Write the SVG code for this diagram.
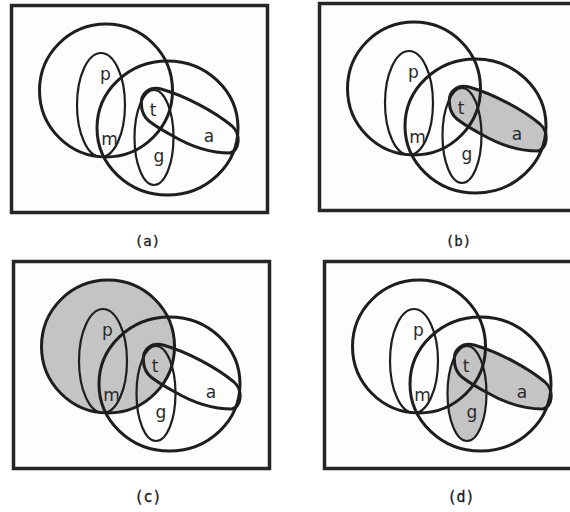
<svg xmlns="http://www.w3.org/2000/svg" width="570" height="512" viewBox="0 0 570 512">
<style>
.frame{fill:#fdfdfd;stroke:#262626;stroke-width:3.5}
.big{fill:none;stroke:#1e1e1e;stroke-width:3}
.thin{fill:none;stroke:#1e1e1e;stroke-width:2.2}
.sh{fill:#c4c4c4;stroke:none}
.lbl{font-family:"DejaVu Sans","Noto Sans",sans-serif;font-size:17px;fill:#2a2a2a;text-anchor:middle}
.cap{font-family:"DejaVu Sans Mono","Liberation Mono",monospace;fill:#1a1a1a;text-anchor:middle;stroke:#1a1a1a;stroke-width:0.3}
</style>
<defs>
<path id="ashape" d="M141.5,105 C140,93 150,86 161,89 C186,96 215,112 232,126 C241,134 240,150 230,153 C210,153 190,146 173,136 C162,130 150,123 146,118 C143,114 141.5,110 141.5,105 Z"/>
</defs>
<rect width="570" height="512" fill="#ffffff"/>

<g id="panel-a">
<rect class="frame" x="11.5" y="5.5" width="256" height="207"/>
<g id="a-circle1"><circle class="big" cx="106" cy="90.5" r="66.5"/></g>
<g id="a-circle2"><ellipse class="big" cx="167.5" cy="128" rx="70.5" ry="67"/></g>
<g id="a-p"><ellipse class="thin" cx="101" cy="105" rx="24" ry="52"/></g>
<g id="a-g"><ellipse class="thin" cx="154" cy="137.5" rx="19.5" ry="47.5"/></g>
<g id="a-a"><use href="#ashape" class="big"/></g>
<text class="lbl" x="105.5" y="80">p</text>
<text class="lbl" x="109.5" y="145">m</text>
<text class="lbl" x="153" y="116">t</text>
<text class="lbl" x="159" y="162">g</text>
<text class="lbl" x="209" y="142">a</text>
</g>

<g id="panel-b" transform="translate(308,-2)">
<rect class="frame" x="11.5" y="5.5" width="256" height="207"/>
<use href="#ashape" class="sh"/>
<g id="b-circle1"><circle class="big" cx="106" cy="90.5" r="66.5"/></g>
<g id="b-circle2"><ellipse class="big" cx="167.5" cy="128" rx="70.5" ry="67"/></g>
<g id="b-p"><ellipse class="thin" cx="101" cy="105" rx="24" ry="52"/></g>
<g id="b-g"><ellipse class="thin" cx="154" cy="137.5" rx="19.5" ry="47.5"/></g>
<g id="b-a"><use href="#ashape" class="big"/></g>
<text class="lbl" x="105.5" y="80">p</text>
<text class="lbl" x="109.5" y="145">m</text>
<text class="lbl" x="153" y="116">t</text>
<text class="lbl" x="159" y="162">g</text>
<text class="lbl" x="209" y="142">a</text>
</g>

<g id="panel-c" transform="translate(2,256)">
<rect class="frame" x="11.5" y="5.5" width="256" height="207"/>
<circle class="sh" cx="106" cy="90.5" r="66.5"/>
<g id="c-circle1"><circle class="big" cx="106" cy="90.5" r="66.5"/></g>
<g id="c-circle2"><ellipse class="big" cx="167.5" cy="128" rx="70.5" ry="67"/></g>
<g id="c-p"><ellipse class="thin" cx="101" cy="105" rx="24" ry="52"/></g>
<g id="c-g"><ellipse class="thin" cx="154" cy="137.5" rx="19.5" ry="47.5"/></g>
<g id="c-a"><use href="#ashape" class="big"/></g>
<text class="lbl" x="105.5" y="80">p</text>
<text class="lbl" x="109.5" y="145">m</text>
<text class="lbl" x="153" y="116">t</text>
<text class="lbl" x="159" y="162">g</text>
<text class="lbl" x="209" y="142">a</text>
</g>

<g id="panel-d" transform="translate(313,256)">
<rect class="frame" x="11.5" y="5.5" width="256" height="207"/>
<ellipse class="sh" cx="154" cy="137.5" rx="19.5" ry="47.5"/>
<use href="#ashape" class="sh"/>
<g id="d-circle1"><circle class="big" cx="106" cy="90.5" r="66.5"/></g>
<g id="d-circle2"><ellipse class="big" cx="167.5" cy="128" rx="70.5" ry="67"/></g>
<g id="d-p"><ellipse class="thin" cx="101" cy="105" rx="24" ry="52"/></g>
<g id="d-g"><ellipse class="thin" cx="154" cy="137.5" rx="19.5" ry="47.5"/></g>
<g id="d-a"><use href="#ashape" class="big"/></g>
<text class="lbl" x="105.5" y="80">p</text>
<text class="lbl" x="109.5" y="145">m</text>
<text class="lbl" x="153" y="116">t</text>
<text class="lbl" x="159" y="162">g</text>
<text class="lbl" x="209" y="142">a</text>
</g>

<g id="captions">
<text class="cap" x="147.5" y="246" font-size="14">(a)</text>
<text class="cap" x="458.5" y="246" font-size="14">(b)</text>
<text class="cap" x="148" y="502" font-size="15">(c)</text>
<text class="cap" x="461" y="502" font-size="15">(d)</text>
</g>
</svg>
